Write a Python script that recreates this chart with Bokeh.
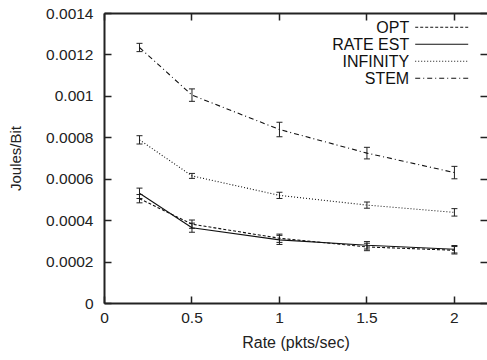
from bokeh.plotting import figure
from bokeh.models import (Range1d, FixedTicker, LinearAxis, Whisker, TeeHead,
                          ColumnDataSource, Label, Arrow)
from bokeh.embed import file_html
from bokeh.resources import INLINE

rate = [0.2, 0.5, 1.0, 1.5, 2.0]
opt = [0.000506, 0.000383, 0.000315, 0.000273, 0.000257]
opt_err = [0.000020, 0.000020, 0.000020, 0.000018, 0.000018]
rate_est = [0.000532, 0.000366, 0.000307, 0.000281, 0.000262]
rate_est_err = [0.000025, 0.000022, 0.000022, 0.000018, 0.000018]
infinity = [0.000790, 0.000616, 0.000522, 0.000475, 0.000440]
infinity_err = [0.000020, 0.000012, 0.000015, 0.000015, 0.000018]
stem = [0.001236, 0.001006, 0.000840, 0.000726, 0.000632]
stem_err = [0.000020, 0.000030, 0.000035, 0.000028, 0.000030]

series_names = ["OPT", "RATE EST", "INFINITY", "STEM"]
series_vals = [opt, rate_est, infinity, stem]
series_errs = [opt_err, rate_est_err, infinity_err, stem_err]
series_dash = ["3 2", "solid", "1 2", "5 3 1 3"]

x_ticks = [0, 0.5, 1, 1.5, 2]
x_tick_labels = ["0", "0.5", "1", "1.5", "2"]
y_ticks = [0, 0.0002, 0.0004, 0.0006, 0.0008, 0.001, 0.0012, 0.0014]
y_tick_labels = ["0", "0.0002", "0.0004", "0.0006", "0.0008", "0.001", "0.0012", "0.0014"]

FONT = "Liberation Sans"
TICK_FS = "15.5px"
FRAME_LEFT = 104.3
FRAME_BOTTOM = 302.5

p = figure(width=487, height=360, output_backend="svg", toolbar_location=None,
           x_range=Range1d(0, 2.189), y_range=Range1d(0, 0.0014),
           min_border_left=104, min_border_right=0, min_border_top=13,
           min_border_bottom=57)
p.outline_line_color = None
p.grid.visible = False
p.background_fill_color = "white"
p.border_fill_color = "white"

def style_axis(ax, ticks, labels, show_labels=True, show_line=True):
    ax.ticker = FixedTicker(ticks=ticks)
    ax.minor_tick_line_color = None
    ax.major_tick_in = 7
    ax.major_tick_out = 0
    ax.major_tick_line_width = 1.5
    ax.major_tick_line_color = "#222222"
    ax.axis_line_width = 2
    ax.axis_line_color = "#222222" if show_line else None
    ax.major_label_text_font = FONT
    if show_labels:
        ax.major_label_overrides = {t: l for t, l in zip(ticks, labels)}
        ax.major_label_text_font_size = TICK_FS
        ax.major_label_text_color = "#222222"
    else:
        ax.major_label_text_font_size = "1px"
        ax.major_label_text_color = None
        ax.major_label_standoff = 0

xa = p.xaxis[0]
style_axis(xa, x_ticks, x_tick_labels)
xa.major_label_standoff = 9
xa.axis_label = "Rate (pkts/sec)"
xa.axis_label_text_font = FONT
xa.axis_label_text_font_size = "16px"
xa.axis_label_text_font_style = "normal"
xa.axis_label_text_color = "#222222"
xa.axis_label_standoff = 8

ya = p.yaxis[0]
style_axis(ya, y_ticks, y_tick_labels)
ya.major_label_standoff = 11
ya.axis_label = "Joules/Bit"
ya.axis_label_text_font = FONT
ya.axis_label_text_font_size = "15px"
ya.axis_label_text_font_style = "normal"
ya.axis_label_text_color = "#222222"
ya.axis_label_standoff = 19

top = LinearAxis()
style_axis(top, x_ticks, x_tick_labels, show_labels=False)
p.add_layout(top, "above")
right = LinearAxis()
style_axis(right, y_ticks, y_tick_labels, show_labels=False, show_line=False)
p.add_layout(right, "right")

for i, (name, vals, errs, dash) in enumerate(zip(series_names, series_vals,
                                                 series_errs, series_dash)):
    src = ColumnDataSource(dict(x=rate, y=vals,
                                lo=[v - e for v, e in zip(vals, errs)],
                                hi=[v + e for v, e in zip(vals, errs)]))
    p.line("x", "y", source=src, line_color="#111111", line_width=1.1,
           line_dash=dash)
    p.add_layout(Whisker(source=src, base="x", lower="lo", upper="hi",
                         dimension="height", line_color="#222222", line_width=1,
                         lower_head=TeeHead(size=6, line_color="#222222", line_width=1),
                         upper_head=TeeHead(size=6, line_color="#222222", line_width=1)))
    # legend entry: right-aligned text followed by a line sample (gnuplot style)
    row_y = FRAME_BOTTOM - (26.3 + 17 * i)
    p.add_layout(Label(x=409 - FRAME_LEFT, y=row_y, x_units="screen", y_units="screen",
                       text=name, text_align="right", text_baseline="middle",
                       text_font=FONT, text_font_size="16px", text_color="#111111"))
    p.add_layout(Arrow(x_start=415 - FRAME_LEFT, y_start=row_y,
                       x_end=468 - FRAME_LEFT, y_end=row_y,
                       start_units="screen", end_units="screen", start=None, end=None,
                       line_color="#111111", line_width=1.1, line_dash=dash))

open("out.html", "w").write(file_html(p, INLINE))
